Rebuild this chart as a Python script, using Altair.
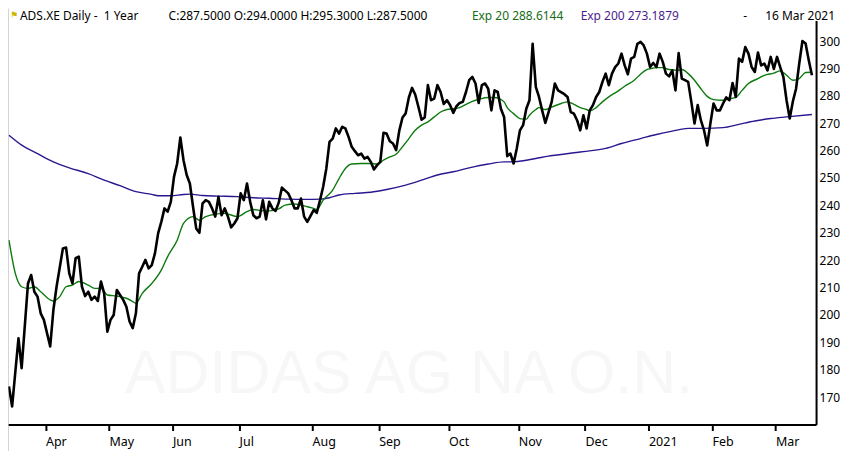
import altair as alt
import pandas as pd

# ---- data (x = trading session number since 16 Mar 2020) ----
close_session = [0, 1, 3, 4, 6, 7, 8, 9, 10, 11, 13, 14, 15, 17, 18, 19, 20, 21, 22, 23, 24, 25, 26, 27, 28, 29,
                 30, 31, 32, 33, 34, 35, 36, 37, 38, 39, 40, 41, 42, 43, 44, 45, 46, 47, 48, 49, 50, 51, 52, 53,
                 54, 55, 56, 57, 58, 59, 60, 61, 62, 63, 64, 65, 66, 67, 68, 69, 70, 71, 72, 73, 74, 75, 76, 77,
                 78, 79, 80, 81, 82, 83, 84, 85, 86, 88, 89, 90, 91, 92, 93, 94, 96, 97, 98, 99, 100, 101, 102,
                 103, 104, 105, 106, 107, 108, 109, 110, 111, 112, 113, 114, 115, 116, 117, 118, 119, 120, 121,
                 122, 123, 124, 125, 126, 127, 128, 129, 130, 131, 132, 133, 134, 135, 136, 137, 138, 139, 140,
                 141, 142, 143, 144, 145, 146, 147, 148, 149, 150, 151, 152, 153, 154, 155, 156, 157, 158, 159,
                 160, 161, 162, 163, 164, 165, 166, 167, 168, 169, 170, 171, 172, 173, 175, 176, 177, 178, 179,
                 180, 181, 182, 183, 184, 185, 186, 187, 188, 189, 190, 191, 192, 193, 194, 195, 196, 197, 198,
                 199, 200, 201, 202, 203, 204, 205, 206, 207, 208, 209, 210, 211, 212, 213, 214, 215, 216, 217,
                 218, 219, 220, 221, 222, 223, 224, 225, 226, 227, 228, 229, 230, 231, 232, 233, 234, 235, 236,
                 237, 238, 239, 240, 241, 242, 243, 244, 245, 246, 247, 248, 249, 250, 251, 252, 253]
close_price = [173.9, 166.6, 191.5, 180.6, 211.5, 214.6, 208.5, 206.7, 200.6, 198.2, 188.5, 201.8, 210.3, 224.3,
               224.6, 215.2, 211.5, 220.7, 221.3, 210.3, 206.9, 208.5, 205.5, 206.7, 205.1, 212.2, 207.9, 193.9,
               198.2, 200.0, 209.1, 207.3, 205.5, 203.0, 197.6, 195.2, 200.6, 215.2, 217.6, 220.1, 217.0, 218.2,
               222.5, 229.8, 234.0, 238.9, 237.7, 241.3, 250.4, 255.3, 264.8, 256.5, 251.1, 248.0, 239.5, 231.6,
               230.0, 240.7, 241.9, 241.3, 238.9, 235.9, 243.1, 236.4, 238.9, 235.9, 232.0, 233.4, 235.3, 244.4,
               241.9, 248.0, 241.3, 236.4, 235.3, 235.9, 241.9, 234.9, 241.3, 238.9, 238.0, 241.0, 246.5, 244.4,
               241.9, 238.9, 238.9, 242.5, 235.9, 234.0, 238.3, 237.3, 241.9, 246.8, 253.5, 263.2, 264.4, 268.1,
               266.2, 268.7, 268.1, 265.0, 261.4, 259.8, 258.3, 258.9, 257.1, 257.7, 255.9, 253.1, 254.7, 255.9,
               266.5, 266.2, 263.4, 262.6, 260.2, 267.4, 272.1, 273.6, 279.4, 282.9, 280.5, 276.0, 271.3, 272.1,
               283.9, 278.4, 279.0, 283.9, 281.4, 277.0, 278.4, 276.6, 273.8, 276.2, 277.4, 277.8, 281.4, 285.7,
               286.9, 284.5, 277.4, 283.9, 284.5, 282.6, 274.7, 282.0, 281.4, 275.3, 272.3, 258.0, 258.9, 255.3,
               260.8, 267.4, 269.3, 275.3, 278.4, 299.0, 283.3, 279.6, 274.7, 270.1, 274.0, 277.8, 284.5, 282.0,
               280.6, 279.6, 274.1, 273.5, 271.1, 267.4, 272.9, 268.1, 274.7, 276.6, 279.6, 281.4, 285.1, 288.1,
               283.9, 288.1, 290.5, 291.8, 295.4, 291.1, 287.9, 293.6, 294.2, 299.0, 299.7, 298.4, 295.4, 290.5,
               292.0, 290.5, 295.4, 292.4, 288.1, 287.1, 289.3, 282.0, 295.6, 286.3, 285.7, 285.1, 277.8, 269.9,
               276.6, 271.1, 267.4, 261.9, 269.9, 277.2, 274.7, 274.7, 277.2, 279.4, 278.4, 284.7, 279.6, 293.6,
               292.4, 297.8, 295.4, 290.5, 288.7, 295.8, 291.1, 291.8, 289.3, 294.2, 289.8, 294.2, 290.5, 286.9,
               278.4, 271.7, 278.0, 282.6, 291.8, 300.0, 299.1, 293.0, 287.5]

ema20_session = [0, 2, 4, 6, 8, 10, 13, 14, 16, 18, 20, 22, 25, 27, 29, 31, 34, 37, 39, 40, 42, 45, 48, 50, 53,
                 55, 58, 60, 62, 65, 68, 72, 75, 77, 80, 82, 85, 87, 90, 92, 94, 96, 97, 99, 102, 104, 106, 108,
                 111, 114, 116, 118, 120, 122, 124, 126, 128, 130, 132, 134, 136, 138, 140, 142, 144, 146, 148,
                 151, 153, 154, 156, 157, 159, 161, 163, 164, 166, 167, 169, 171, 174, 176, 178, 180, 182, 183,
                 185, 187, 189, 192, 194, 197, 199, 201, 202, 204, 206, 208, 211, 212, 214, 216, 218, 220, 222,
                 225, 227, 229, 231, 233, 236, 238, 241, 243, 245, 247, 249, 251, 253]
ema20_price = [227.3, 215.2, 210.3, 209.7, 210.3, 208.5, 205.5, 205.1, 206.7, 210.3, 210.9, 212.2, 210.9, 209.7,
               209.7, 207.3, 206.9, 206.1, 204.9, 204.3, 207.9, 211.5, 216.4, 221.3, 227.3, 233.4, 235.9, 234.6,
               235.9, 236.8, 237.1, 235.9, 237.7, 238.5, 238.0, 238.0, 238.7, 240.1, 240.5, 240.1, 239.5, 238.9,
               238.5, 241.9, 245.6, 249.8, 253.5, 255.1, 255.3, 255.3, 255.1, 256.5, 257.7, 258.7, 261.4, 264.4,
               267.4, 269.3, 270.5, 272.3, 274.1, 275.0, 275.3, 275.7, 276.9, 278.0, 278.7, 279.4, 279.4, 279.2,
               277.8, 275.7, 273.5, 271.7, 271.5, 272.9, 275.0, 275.7, 275.0, 275.9, 277.2, 277.8, 276.9, 275.7,
               275.0, 274.5, 275.7, 277.8, 279.6, 281.8, 283.5, 285.7, 287.9, 289.6, 289.9, 290.3, 290.3, 289.6,
               289.3, 289.6, 288.1, 285.7, 282.6, 279.8, 278.6, 278.4, 278.9, 279.4, 282.0, 284.5, 286.3, 287.5,
               288.3, 289.1, 287.5, 285.7, 286.3, 288.5, 288.6]

ema200_session = [0, 4, 9, 14, 19, 25, 30, 35, 40, 45, 47, 51, 55, 57, 61, 66, 72, 77, 82, 88, 94, 98, 101, 104,
                  109, 114, 119, 125, 130, 135, 140, 145, 151, 156, 159, 163, 166, 170, 172, 178, 183, 188, 193,
                  199, 204, 209, 214, 219, 225, 230, 235, 240, 245, 253]
ema200_price = [265.6, 262.0, 258.9, 255.9, 253.7, 251.6, 249.2, 247.2, 245.0, 244.0, 243.5, 243.5, 244.0, 244.1,
                243.6, 243.4, 243.2, 242.8, 242.6, 242.3, 242.2, 242.3, 242.8, 243.8, 244.4, 244.8, 245.8, 247.4,
                249.2, 251.1, 252.3, 253.7, 255.1, 255.9, 255.9, 256.5, 257.1, 258.0, 258.3, 259.2, 259.9, 260.8,
                262.6, 264.4, 265.9, 267.1, 268.1, 268.1, 268.4, 269.6, 270.8, 271.7, 272.3, 273.2]

# first trading session of each month and its label
month_session = [12, 32, 52, 73, 96, 117, 139, 161, 182, 202, 222, 242]
month_label = ["Apr", "May", "Jun", "Jul", "Aug", "Sep", "Oct", "Nov", "Dec", "2021", "Feb", "Mar"]
price_ticks = [170, 180, 190, 200, 210, 220, 230, 240, 250, 260, 270, 280, 290, 300]

header_texts = ["ADS.XE Daily -\u00a0 1 Year", "C:287.5000 O:294.0000 H:295.3000 L:287.5000",
                "Exp 20 288.6144", "Exp 200 273.1879", "-", "16 Mar 2021"]
watermark_text = "ADIDAS AG NA O.N."

FONT = "Noto Sans"

tick_values = [s - 0.5 for s in month_session]
label_expr = " : ".join(f"datum.value == {v} ? '{l}'" for v, l in zip(tick_values, month_label)) + " : ''"

x_enc = alt.X("session:Q",
              scale=alt.Scale(domain=[-0.3, 254.3], nice=False, zero=False),
              axis=alt.Axis(values=tick_values, labelExpr=label_expr, title=None, grid=False,
                            domainColor="black", domainWidth=2, tickColor="black", tickWidth=2, tickSize=6,
                            labelAlign="left", labelBaseline="top", labelPadding=5, labelFont=FONT,
                            labelFontSize=12.5, labelColor="black", labelFlush=False, labelOverlap=False))
y_enc = alt.Y("price:Q",
              scale=alt.Scale(domain=[160, 307.5], nice=False, zero=False),
              axis=alt.Axis(orient="right", values=price_ticks, title=None, grid=False,
                            domainColor="black", domainWidth=2, ticks=False, labelPadding=3,
                            labelFont=FONT, labelFontSize=12, labelColor="black",
                            labelFlush=False, labelOverlap=False))

close_df = pd.DataFrame({"session": close_session, "price": close_price})
ema20_df = pd.DataFrame({"session": ema20_session, "price": ema20_price})
ema200_df = pd.DataFrame({"session": ema200_session, "price": ema200_price})

watermark = alt.Chart(pd.DataFrame({"t": [watermark_text]})).mark_text(
    font="Liberation Sans", fontSize=61, color="#f7f7f7", align="center", baseline="alphabetic"
).encode(text="t:N", x=alt.value(402), y=alt.value(373))

ema200 = alt.Chart(ema200_df).mark_line(color="#2e1590", strokeWidth=1.4, interpolate="monotone").encode(
    x=x_enc, y=y_enc)
ema20 = alt.Chart(ema20_df).mark_line(color="#0d7a0d", strokeWidth=1.4, interpolate="monotone").encode(
    x=x_enc, y=y_enc)
close = alt.Chart(close_df).mark_line(color="black", strokeWidth=2.6, strokeJoin="round").encode(
    x=x_enc, y=y_enc)

left_border = alt.Chart(pd.DataFrame({"a": [0]})).mark_rule(color="#a8a8a8", strokeWidth=3).encode(
    x=alt.value(-1), y=alt.value(-12), y2=alt.value(432))


def header(i, xpos, color, align="left"):
    return alt.Chart(pd.DataFrame({"t": [header_texts[i]]})).mark_text(
        font=FONT, fontSize=12, color=color, align=align, baseline="middle"
    ).encode(text="t:N", x=alt.value(xpos), y=alt.value(-5))


flag = alt.Chart(pd.DataFrame({"t": ["\u2691"]})).mark_text(
    font="DejaVu Sans", fontSize=9, color="#c8b800", align="left", baseline="middle"
).encode(text="t:N", x=alt.value(2), y=alt.value(-6))

chart = alt.layer(
    watermark, ema200, ema20, close, left_border, flag,
    header(0, 12, "black"),
    header(1, 161, "black"),
    header(2, 465, "#176b17"),
    header(3, 574, "#4a1e8c"),
    header(4, 737, "black"),
    header(5, 829, "black", "right"),
).properties(
    width=810, height=405,
    autosize=alt.AutoSizeParams(type="none"),
    padding={"left": 0, "top": 12, "right": 26, "bottom": 26},
    background="white",
).configure_view(stroke=None)

chart.save("out.html", embed_options={"renderer": "svg", "actions": False})
